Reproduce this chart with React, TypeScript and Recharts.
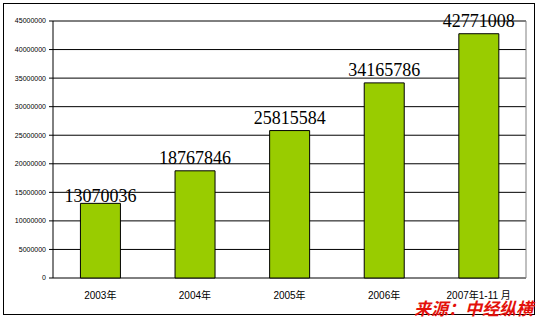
import React from 'react';
import { BarChart, Bar, XAxis, YAxis, CartesianGrid, ReferenceLine, LabelList } from 'recharts';

const years = ['2003年', '2004年', '2005年', '2006年', '2007年1-11 月'];
const values = [13070036, 18767846, 25815584, 34165786, 42771008];
const yTicks = [0, 5000000, 10000000, 15000000, 20000000, 25000000, 30000000, 35000000, 40000000, 45000000];
const boundaryTicks = [0, 1, 2, 3, 4, 5];
const source = '来源：中经纵横';

// the first label sits lower, right on its bar, as in the original
const labelGap = [1, 7, 7, 7, 7];

const data = years.map((year, i) => ({ year, value: values[i] }));

const ValueLabel = (props: any) => {
  const { x, y, width, value, index } = props;
  return (
    <text
      x={x + width / 2}
      y={y - (labelGap[index] ?? 7)}
      textAnchor="middle"
      fontFamily="'Liberation Serif', serif"
      fontSize={18}
      fill="#000"
    >
      {value}
    </text>
  );
};

export default function App() {
  return (
    <div style={{ position: 'absolute', left: 0, top: 0, width: 539, height: 321, background: '#fff' }}>
      <div
        style={{
          position: 'absolute',
          left: 3,
          top: 3,
          width: 532,
          height: 312,
          border: '1px solid #000',
          boxSizing: 'border-box',
        }}
      />
      <BarChart
        width={539}
        height={321}
        data={data}
        margin={{ top: 21, right: 0, bottom: 0, left: 0 }}
        barCategoryGap="29%"
        style={{ position: 'absolute', left: 0, top: 0 }}
      >
        <CartesianGrid vertical={false} stroke="#000" strokeOpacity={1} />
        <XAxis
          xAxisId="b"
          type="number"
          domain={[0, 5]}
          allowDataOverflow
          ticks={boundaryTicks}
          height={0}
          mirror
          tick={false}
          tickSize={4}
          stroke="#000"
        />
        <XAxis
          dataKey="year"
          height={43}
          axisLine={false}
          tickLine={false}
          tickSize={0}
          tickMargin={14}
          interval={0}
          tick={{ fontSize: 10, fill: '#000', fontFamily: "'Liberation Sans', 'Noto Sans CJK SC', sans-serif" }}
        />
        <YAxis
          width={53}
          domain={[0, 45000000]}
          ticks={yTicks}
          tickSize={4}
          tickMargin={3}
          stroke="#000"
          tick={{ fontSize: 7, fill: '#000', fontFamily: "'Liberation Sans', sans-serif" }}
        />
        <YAxis
          yAxisId="r"
          orientation="right"
          width={13}
          domain={[0, 45000000]}
          tick={false}
          tickLine={false}
          stroke="#808080"
        />
        <ReferenceLine y={45000000} stroke="#808080" />
        <Bar dataKey="value" fill="#99cc00" stroke="#000" strokeWidth={1} isAnimationActive={false}>
          <LabelList dataKey="value" content={ValueLabel} />
        </Bar>
      </BarChart>
      <div
        style={{
          position: 'absolute',
          right: 6,
          top: 298,
          color: '#e3120b',
          fontFamily: "'Noto Sans CJK SC', sans-serif",
          fontWeight: 'bold',
          fontStyle: 'italic',
          fontSize: 17,
          lineHeight: '19px',
          whiteSpace: 'nowrap',
        }}
      >
        {source}
      </div>
    </div>
  );
}
